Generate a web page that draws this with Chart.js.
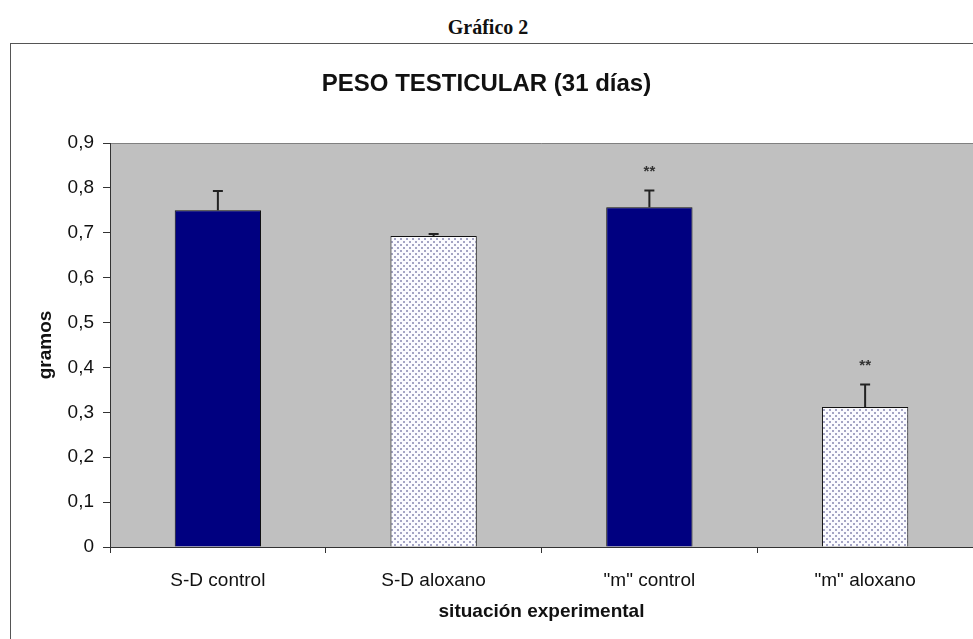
<!DOCTYPE html>
<html>
<head>
<meta charset="utf-8">
<script src="https://cdn.jsdelivr.net/npm/chart.js@4.4.1/dist/chart.umd.min.js"></script>
<style>
  html, body { margin: 0; padding: 0; background: #fff; }
  body { width: 973px; height: 639px; position: relative; overflow: hidden; }
  #cap { position: absolute; left: 0; top: 16px; width: 976px; text-align: center;
         font: bold 20px 'Liberation Serif', 'Times New Roman', serif; color: #111; }
  #frame { position: absolute; left: 10px; top: 43px; width: 1000px; height: 700px;
           border: 1px solid #555; box-sizing: border-box; }
  #wrap { position: absolute; left: 0; top: 0; width: 973px; height: 639px; }
</style>
</head>
<body>
<div id="cap">Gráfico 2</div>
<div id="frame"></div>
<div id="wrap"><canvas id="chart"></canvas></div>
<script>
  // values (gramos)
  const categories = ['S-D control', 'S-D aloxano', '"m" control', '"m" aloxano'];
  const pesos = [0.75, 0.693, 0.757, 0.312];
  const errores = [0.043, 0.004, 0.037, 0.05];
  const marcas = ['', '', '**', '**'];
  const yMin = 0;
  const yMax = 0.9;
  const yStep = 0.1;

  Chart.defaults.font.family = "'Liberation Sans', Arial, sans-serif";
  Chart.defaults.color = '#111';

  function dotPattern() {
    const t = document.createElement('canvas');
    t.width = 6; t.height = 6;
    const g = t.getContext('2d');
    g.fillStyle = '#fbfbff';
    g.fillRect(0, 0, 6, 6);
    g.fillStyle = '#a4a4c4';
    g.fillRect(1, 1, 2, 2);
    g.fillRect(4, 4, 2, 2);
    return g.createPattern(t, 'repeat');
  }
  const dots = dotPattern();

  const plotBg = {
    id: 'plotBg',
    beforeDraw(chart) {
      const { ctx, chartArea: a } = chart;
      ctx.save();
      ctx.fillStyle = '#c0c0c0';
      ctx.fillRect(a.left, a.top, a.right - a.left, a.bottom - a.top);
      ctx.strokeStyle = '#808080';
      ctx.lineWidth = 1;
      ctx.beginPath();
      ctx.moveTo(a.left, a.top + 0.5);
      ctx.lineTo(a.right, a.top + 0.5);
      ctx.stroke();
      ctx.restore();
    }
  };

  const errorBars = {
    id: 'errorBars',
    afterDatasetsDraw(chart) {
      const { ctx } = chart;
      const y = chart.scales.y;
      const meta = chart.getDatasetMeta(0);
      ctx.save();
      meta.data.forEach((bar, i) => {
        const base = y.getPixelForValue(pesos[i]);
        const top = y.getPixelForValue(pesos[i] + errores[i]);
        ctx.strokeStyle = '#222';
        ctx.lineWidth = 2;
        ctx.beginPath();
        ctx.moveTo(bar.x, base);
        ctx.lineTo(bar.x, top);
        ctx.moveTo(bar.x - 5, top);
        ctx.lineTo(bar.x + 5, top);
        ctx.stroke();
        if (marcas[i]) {
          ctx.fillStyle = '#333';
          ctx.font = "bold 15px 'Liberation Sans', Arial, sans-serif";
          ctx.textAlign = 'center';
          ctx.textBaseline = 'middle';
          ctx.fillText(marcas[i], bar.x, top - 19);
        }
      });
      ctx.restore();
    }
  };

  new Chart(document.getElementById('chart'), {
    type: 'bar',
    data: {
      labels: categories,
      datasets: [{
        label: 'gramos',
        data: pesos,
        backgroundColor: categories.map((c, i) => i % 2 ? dots : '#000080'),
        borderColor: '#111',
        borderWidth: 1,
        barPercentage: 0.4,
        categoryPercentage: 1
      }]
    },
    options: {
      responsive: true,
      maintainAspectRatio: false,
      animation: false,
      layout: { padding: { top: 44, left: 0, right: 0, bottom: 0 } },
      plugins: {
        legend: { display: false },
        tooltip: { enabled: false },
        title: {
          display: true,
          text: 'PESO TESTICULAR (31 días)',
          color: '#111',
          font: { size: 24, weight: 'bold' },
          padding: { top: 26, bottom: 44.2 }
        }
      },
      scales: {
        x: {
          afterFit: s => { s.height = 92; },
          grid: { display: true, drawOnChartArea: false, drawTicks: true, tickLength: 6, color: '#333', offset: true },
          border: { display: true, color: '#333', width: 1 },
          ticks: { color: '#111', font: { size: 19 }, padding: 16 },
          title: {
            display: true,
            text: 'situación experimental',
            color: '#111',
            font: { size: 19, weight: 'bold' },
            padding: { top: 4, bottom: 16 }
          }
        },
        y: {
          min: yMin,
          max: yMax,
          afterFit: s => { s.width = 110; },
          grid: { display: true, drawOnChartArea: false, drawTicks: true, tickLength: 7, color: '#333' },
          border: { display: true, color: '#333', width: 1 },
          ticks: {
            stepSize: yStep,
            color: '#111',
            font: { size: 19 },
            padding: 9,
            callback: v => v === 0 ? '0' : v.toFixed(1).replace('.', ',')
          },
          title: {
            display: true,
            text: 'gramos',
            color: '#111',
            font: { size: 19, weight: 'bold' },
            padding: { top: 34, bottom: 4 }
          }
        }
      }
    },
    plugins: [plotBg, errorBars]
  });
</script>
</body>
</html>
